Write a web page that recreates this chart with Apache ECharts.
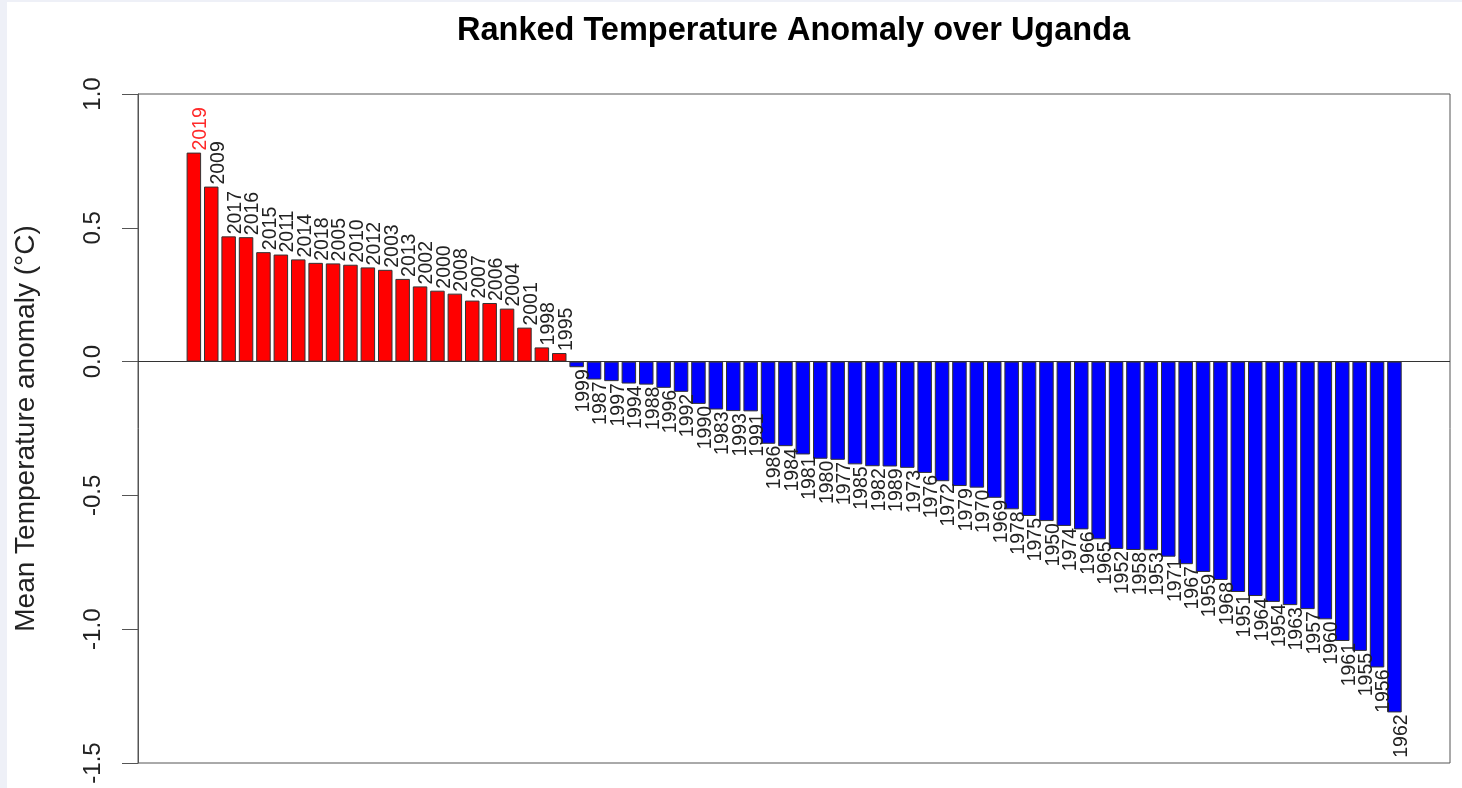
<!DOCTYPE html>
<html>
<head>
<meta charset="utf-8">
<script src="https://cdn.jsdelivr.net/npm/echarts@6/dist/echarts.min.js"></script>
<style>
html,body{margin:0;padding:0;background:#eef0f7;width:1462px;height:788px;overflow:hidden;}
#chart{position:absolute;left:7px;top:2px;width:1455px;height:786px;background:#ffffff;}
</style>
</head>
<body>
<div id="chart"></div>
<script>
// Years ranked from warmest to coolest
const years = [
  '2019','2009','2017','2016','2015','2011','2014','2018','2005','2010','2012','2003','2013','2002','2000','2008','2007','2006','2004','2001','1998','1995',
  '1999','1987','1997','1994','1988','1996','1992','1990','1983','1993','1991','1986','1984','1981','1980','1977','1985','1982','1989','1973','1976','1972','1979','1970','1969','1978','1975','1950','1974','1966','1965','1952','1958','1953','1971','1967','1959','1968','1951','1964','1954','1963','1957','1960','1961','1955','1956','1962'
];
// Mean temperature anomaly (°C)
const anomalies = [
  0.781,0.654,0.468,0.465,0.409,0.400,0.382,0.369,0.367,0.362,0.352,0.343,0.309,0.281,0.265,0.254,0.228,0.219,0.198,0.127,0.053,0.032,
  -0.021,-0.067,-0.073,-0.082,-0.086,-0.098,-0.113,-0.158,-0.179,-0.185,-0.186,-0.307,-0.316,-0.347,-0.363,-0.367,-0.384,-0.391,-0.392,-0.397,-0.416,-0.447,-0.465,-0.471,-0.509,-0.552,-0.577,-0.596,-0.614,-0.627,-0.664,-0.700,-0.704,-0.705,-0.729,-0.757,-0.786,-0.816,-0.861,-0.876,-0.898,-0.910,-0.925,-0.963,-1.044,-1.081,-1.143,-1.311
];
const yTicks = [-1.5, -1.0, -0.5, 0.0, 0.5, 1.0];
const highlightYear = '2019';

const chart = echarts.init(document.getElementById('chart'), null, {renderer: 'canvas'});

const barData = anomalies.map((v, i) => {
  const pos = v >= 0;
  return {
    value: v,
    itemStyle: {color: pos ? '#ff0000' : '#0000ff'},
    label: {
      position: pos ? 'top' : 'bottom',
      align: pos ? 'left' : 'right',
      color: years[i] === highlightYear ? '#ff2a2a' : '#222222'
    }
  };
});

const yMin = yTicks[0], yMax = yTicks[yTicks.length - 1];

const option = {
  animation: false,
  backgroundColor: '#ffffff',
  title: {
    text: 'Ranked Temperature Anomaly over Uganda',
    left: 450,
    top: 13,
    padding: 0,
    textStyle: {fontFamily: 'Liberation Sans, Arial, sans-serif', fontWeight: 'bold', fontSize: 32.5, color: '#000000'}
  },
  grid: [
    {left: 131, right: 12, top: 92, bottom: 25, outerBoundsMode: 'none', containLabel: false, show: true, borderColor: '#555555', borderWidth: 1, backgroundColor: 'transparent'},
    {left: 178.15, right: 58.85, top: 92, bottom: 25, outerBoundsMode: 'none', containLabel: false}
  ],
  xAxis: [
    {gridIndex: 0, type: 'value', min: 0, max: 1, show: false},
    {gridIndex: 1, type: 'category', data: years, show: false, boundaryGap: true}
  ],
  yAxis: [
    {
      gridIndex: 0, type: 'value', min: yMin, max: yMax, interval: 0.5,
      name: 'Mean Temperature anomaly (°C)', nameLocation: 'middle', nameGap: 98, nameRotate: 90,
      nameTextStyle: {fontFamily: 'Liberation Sans, Arial, sans-serif', fontSize: 28, color: '#222222'},
      axisLine: {show: true, lineStyle: {color: '#555555', width: 1}},
      axisTick: {show: true, inside: false, length: 16, lineStyle: {color: '#555555', width: 1}},
      axisLabel: {
        rotate: 90, margin: 33, fontFamily: 'Liberation Sans, Arial, sans-serif', fontSize: 24, color: '#222222',
        formatter: v => v.toFixed(1)
      },
      splitLine: {show: false}
    },
    {gridIndex: 1, type: 'value', min: yMin, max: yMax, show: false, splitLine: {show: false}}
  ],
  series: [
    {
      type: 'line', xAxisIndex: 0, yAxisIndex: 0, data: [], silent: true,
      markLine: {
        silent: true, symbol: ['none', 'none'], label: {show: false},
        lineStyle: {color: '#333333', type: 'solid', width: 1},
        data: [{yAxis: 0}]
      }
    },
    {
      type: 'bar', xAxisIndex: 1, yAxisIndex: 1, data: barData, barWidth: 14.5,
      itemStyle: {borderColor: '#333333', borderWidth: 1},
      label: {
        show: true, formatter: p => years[p.dataIndex], rotate: 90, distance: 2,
        verticalAlign: 'middle', offset: [0, 7],
        fontFamily: 'Liberation Sans, Arial, sans-serif', fontSize: 19.5
      }
    }
  ]
};
chart.setOption(option);
</script>
</body>
</html>
